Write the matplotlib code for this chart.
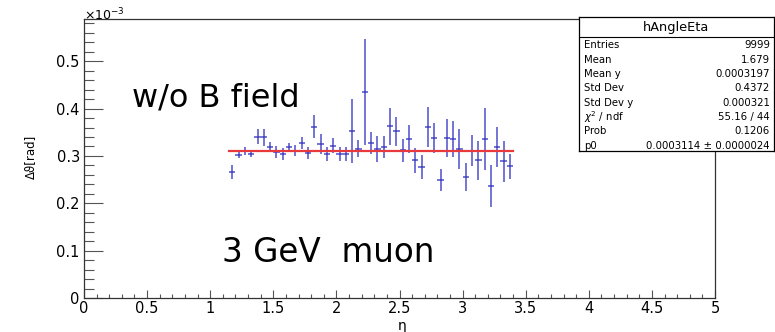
import matplotlib
matplotlib.use("Agg")
import matplotlib.pyplot as plt
from matplotlib.ticker import MultipleLocator, FuncFormatter
import numpy as np

plt.rcParams['font.family'] = ['DejaVu Sans']
plt.rcParams['mathtext.fontset'] = 'dejavusans'

# ---- data (y in units of 1e-3 rad) ----
bin_width = 0.05
eta_centers = [1.175 + i * bin_width for i in range(45)]
dtheta_e3 = [0.266, 0.302, 0.311, 0.304, 0.341, 0.339, 0.319, 0.309, 0.304, 0.319,
             0.311, 0.327, 0.306, 0.362, 0.325, 0.304, 0.322, 0.304, 0.304, 0.353,
             0.315, 0.435, 0.327, 0.315, 0.319, 0.363, 0.352, 0.312, 0.336, 0.291,
             0.276, 0.361, 0.338, 0.249, 0.338, 0.335, 0.315, 0.255, 0.311, 0.291,
             0.336, 0.237, 0.319, 0.289, 0.278]
dtheta_err_e3 = [0.015, 0.007, 0.008, 0.006, 0.015, 0.018, 0.010, 0.013, 0.012, 0.009,
                 0.012, 0.012, 0.013, 0.024, 0.021, 0.014, 0.015, 0.015, 0.015, 0.068,
                 0.018, 0.111, 0.023, 0.027, 0.024, 0.039, 0.030, 0.024, 0.029, 0.026,
                 0.025, 0.043, 0.032, 0.024, 0.041, 0.038, 0.042, 0.030, 0.033, 0.041,
                 0.065, 0.044, 0.043, 0.043, 0.027]
fit_p0_e3 = 0.3114
fit_range = [1.15, 3.40]

stats_title = "hAngleEta"
stats_labels = ["Entries", "Mean", "Mean y", "Std Dev", "Std Dev y",
                r"$\chi^{2}$ / ndf", "Prob", "p0"]
stats_values = ["9999", "1.679", "0.0003197", "0.4372", "0.000321",
                "55.16 / 44", "0.1206", "0.0003114 ± 0.0000024"]

W, H = 775, 332
fig = plt.figure(figsize=(W / 100, H / 100), dpi=100)

L, R, T, B = 84, 715, 18.6, 298
ax = fig.add_axes([L / W, (H - B) / H, (R - L) / W, (B - T) / H])

ax.errorbar(eta_centers, dtheta_e3, yerr=dtheta_err_e3, xerr=bin_width / 2,
            fmt='none', ecolor='#3030c0', elinewidth=1.1, capsize=0, alpha=0.85)
ax.plot(fit_range, [fit_p0_e3, fit_p0_e3], color='#e8393d', lw=1.6)

ax.set_xlim(0, 5)
ax.set_ylim(0, 0.59)
ax.xaxis.set_major_locator(MultipleLocator(0.5))
ax.xaxis.set_minor_locator(MultipleLocator(0.1))
ax.yaxis.set_major_locator(MultipleLocator(0.1))
ax.yaxis.set_minor_locator(MultipleLocator(0.02))

def fmt(v, pos):
    s = f"{v:.1f}"
    if s.endswith(".0"):
        s = s[:-2]
    return s

ax.xaxis.set_major_formatter(FuncFormatter(fmt))
ax.yaxis.set_major_formatter(FuncFormatter(fmt))

px = 72 / 100
ax.tick_params(axis='x', which='major', direction='in', length=8 * px, width=0.8,
               color='#555555', labelsize=10.5, pad=2.5)
ax.tick_params(axis='x', which='minor', direction='in', length=4 * px, width=0.8,
               color='#555555')
ax.tick_params(axis='y', which='major', direction='in', length=19 * px, width=0.8,
               color='#555555', labelsize=10.5, pad=3)
ax.tick_params(axis='y', which='minor', direction='in', length=10 * px, width=0.8,
               color='#555555')
for sp in ax.spines.values():
    sp.set_linewidth(0.9)
    sp.set_color('#333333')

fig.text(402 / W, 1 - 326 / H, "η", ha='center', va='center', fontsize=10)
fig.text(30 / W, 1 - 157 / H, "Δϑ[rad]", ha='center', va='center',
         rotation=90, fontsize=8.5)
fig.text(84 / W, 1 - 20 / H, r"$\times10^{-3}$", ha='left', va='baseline',
         fontsize=9)

fig.text(132 / W, 1 - 107 / H, "w/o B field", ha='left', va='baseline', fontsize=23)
fig.text(222 / W, 1 - 262 / H, "3 GeV  muon", ha='left', va='baseline', fontsize=23.5)

# stats box
bx0, bx1, by0, by1 = 579, 774, 17, 151
sax = fig.add_axes([bx0 / W, (H - by1) / H, (bx1 - bx0) / W, (by1 - by0) / H])
sax.set_xlim(bx0, bx1)
sax.set_ylim(by1, by0)
sax.set_xticks([])
sax.set_yticks([])
for sp in sax.spines.values():
    sp.set_linewidth(0.9)
    sp.set_color('black')
sax.axhline(37, color='black', lw=0.8)
sax.text((bx0 + bx1) / 2, 27.5, stats_title, ha='center', va='center', fontsize=9.3)
for i, (lab, val) in enumerate(zip(stats_labels, stats_values)):
    y = 45.5 + i * 14.3
    sax.text(584, y, lab, ha='left', va='center', fontsize=7.3)
    sax.text(770, y, val, ha='right', va='center', fontsize=7.3)

fig.savefig("out.png", dpi=100)
